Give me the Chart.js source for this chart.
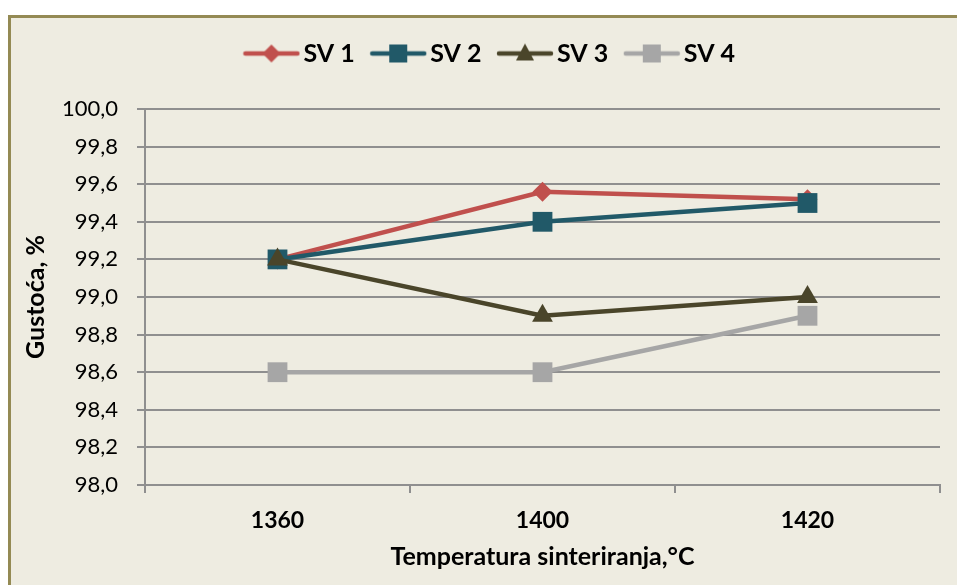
<!DOCTYPE html>
<html>
<head>
<meta charset="utf-8">
<script src="https://cdn.jsdelivr.net/npm/chart.js@4/dist/chart.umd.min.js"></script>
<style>
  body { margin: 0; background: #fff; overflow: hidden; }
  #box {
    position: absolute; left: 8px; top: 15px;
    width: 970px; height: 590px;
    border: 3px solid #948A54; background: #EEECE1;
  }
  #wrap { position: absolute; left: 0; top: 0; width: 943px; height: 567px; }
</style>
</head>
<body>
<div id="box"><div id="wrap"><canvas id="mycanvas"></canvas></div></div>
<script>
var temperatures = ["1360", "1400", "1420"];
var sv1 = [99.2, 99.56, 99.52];
var sv2 = [99.2, 99.4, 99.5];
var sv3 = [99.2, 98.9, 99.0];
var sv4 = [98.6, 98.6, 98.9];
var seriesNames = ["SV 1", "SV 2", "SV 3", "SV 4"];
var colors = ["#C0504D", "#215968", "#4A452A", "#A6A6A6"];
var markers = ["rectRot", "rect", "triangle", "rect"];

var font = "Lato, 'Liberation Sans', sans-serif";

// little line + marker picture for the legend, like Excel draws it
function legendIcon(color, marker) {
  var c = document.createElement("canvas");
  c.width = 58; c.height = 22;
  var g = c.getContext("2d");
  g.strokeStyle = color; g.fillStyle = color;
  g.lineWidth = 4.5; g.lineCap = "round";
  g.beginPath(); g.moveTo(3, 11); g.lineTo(55, 11); g.stroke();
  g.beginPath();
  if (marker == "rectRot") {
    g.moveTo(29, 2); g.lineTo(38, 11); g.lineTo(29, 20); g.lineTo(20, 11);
  } else if (marker == "triangle") {
    g.moveTo(29, 1); g.lineTo(38, 18); g.lineTo(20, 18);
  } else {
    g.rect(20, 2, 18, 18);
  }
  g.closePath(); g.fill();
  return c;
}

// extra room under the legend, and nudge it a bit to the right
var legendGap = {
  id: "legendGap",
  beforeInit: function (chart) {
    var fit = chart.legend.fit;
    chart.legend.fit = function () {
      fit.bind(chart.legend)();
      this.height += 33;
    };
  },
  afterLayout: function (chart) {
    chart.legend.left += 14;
    chart.legend.right += 14;
  }
};

var values = [sv1, sv2, sv3, sv4];
var radii = { rectRot: 10, rect: 14, triangle: 12 };
var datasets = values.map(function (v, i) {
  return {
    label: seriesNames[i],
    data: v,
    borderColor: colors[i],
    backgroundColor: colors[i],
    borderWidth: 4.5,
    pointStyle: markers[i],
    pointRadius: radii[markers[i]],
    pointHoverRadius: radii[markers[i]],
    pointBorderWidth: 0,
    tension: 0,
    order: 4 - i
  };
});

var ctx = document.getElementById("mycanvas").getContext("2d");
var myLineChart = new Chart(ctx, {
  type: "line",
  data: { labels: temperatures, datasets: datasets },
  plugins: [legendGap],
  options: {
    responsive: true,
    maintainAspectRatio: false,
    animation: false,
    layout: { padding: { top: -1, right: 6, left: 0, bottom: 0 } },
    plugins: {
      tooltip: { enabled: false },
      legend: {
        position: "top",
        labels: {
          usePointStyle: true,
          pointStyleWidth: 39,
          padding: 24,
          color: "#000",
          font: { family: font, size: 25, weight: "bold" },
          sort: function (a, b) { return a.datasetIndex - b.datasetIndex; },
          generateLabels: function (chart) {
            return chart.data.datasets.map(function (ds, i) {
              return {
                text: ds.label,
                datasetIndex: i,
                pointStyle: legendIcon(colors[i], markers[i]),
                fillStyle: colors[i],
                strokeStyle: colors[i],
                lineWidth: 0,
                fontColor: "#000",
                hidden: false
              };
            });
          }
        }
      }
    },
    scales: {
      x: {
        offset: true,
        grid: { offset: true, drawOnChartArea: false, tickLength: 8, color: "#8F8F8F", lineWidth: 2 },
        border: { color: "#8F8F8F", width: 2 },
        ticks: { padding: 14, color: "#000", font: { family: font, size: 23, weight: "bold" } },
        title: {
          display: true, text: "Temperatura sinteriranja,°C", color: "#000",
          font: { family: font, size: 25, weight: "bold" }, padding: { top: 6, bottom: 13 }
        },
        afterFit: function (s) { s.height = 100; }
      },
      y: {
        min: 98, max: 100,
        grid: { tickLength: 8, color: "#8F8F8F", lineWidth: 2 },
        border: { color: "#8F8F8F", width: 2 },
        ticks: {
          stepSize: 0.2, padding: 19, color: "#000",
          font: { family: font, size: 22 },
          callback: function (v) { return v.toFixed(1).replace(".", ","); }
        },
        title: {
          display: true, text: "Gustoća, %", color: "#000",
          font: { family: font, size: 25, weight: "bold" }, padding: { top: 10, bottom: 10 }
        },
        afterFit: function (s) { s.width = 134; }
      }
    }
  }
});
</script>
</body>
</html>
